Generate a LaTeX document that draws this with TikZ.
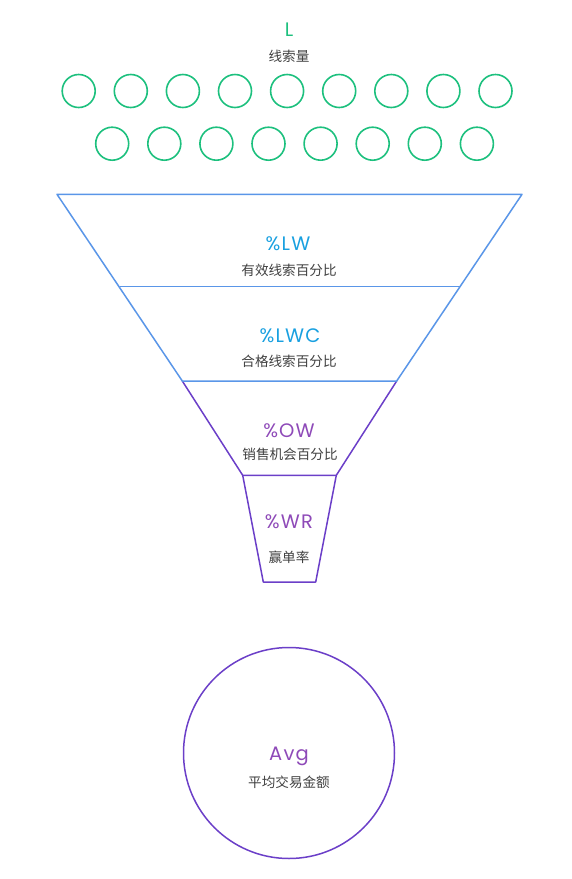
\documentclass[tikz,border=0pt]{standalone}
\usepackage{fontspec}
\setmainfont{Poppins}[LetterSpace=6]
\newfontfamily\cjk{Noto Sans CJK SC}
\definecolor{cgreen}{HTML}{1DC07E}
\definecolor{cblue}{HTML}{5A96E8}
\definecolor{cbluetxt}{HTML}{19A0E0}
\definecolor{cpurple}{HTML}{6B3FC8}
\definecolor{cpurpletxt}{HTML}{8E4AB8}
\definecolor{cgray}{HTML}{404040}
\tikzset{
  dot/.style={circle, draw=cgreen, line width=1.6pt, minimum size=33pt, inner sep=0pt},
  bigtxt/.style={font=\fontsize{19.5}{23}\selectfont, inner sep=0pt},
  subtxt/.style={font=\cjk\fontsize{13.6}{16}\selectfont, text=cgray, inner sep=0pt},
  blueline/.style={draw=cblue, line width=1.5pt, line join=round},
  purpleline/.style={draw=cpurple, line width=1.5pt, line join=round},
}
\begin{document}
\begin{tikzpicture}[x=1pt, y=-1pt]
\useasboundingbox (0,0) rectangle (571,879);
% top label
\node[bigtxt, text=cgreen] (L) at (289,30) {L};
\node[subtxt] (Lsub) at (289,56) {线索量};
% circles
\foreach \i in {0,...,8} {
  \node[dot] (a\i) at ({78.7+52.1*\i},91) {};
}
\foreach \i in {0,...,7} {
  \node[dot] (b\i) at ({112.2+52.1*\i},143.7) {};
}
% funnel coordinates
\coordinate (t1) at (57,194.3);
\coordinate (t2) at (522,194.3);
\coordinate (m1) at (119.5,286.7);
\coordinate (m2) at (459.5,286.7);
\coordinate (n1) at (182.3,381);
\coordinate (n2) at (396.7,381);
\coordinate (o1) at (242.7,475.3);
\coordinate (o2) at (336.3,475.3);
\coordinate (p1) at (263.3,582);
\coordinate (p2) at (315.7,582);
% purple part
\draw[purpleline] (n1) -- (o1) -- (o2) -- (n2);
\draw[purpleline] (o1) -- (p1) -- (p2) -- (o2);
% blue part
\draw[blueline] (n1) -- (t1) -- (t2) -- (n2) -- cycle;
\draw[blueline] (m1) -- (m2);
% texts
\node[bigtxt, text=cbluetxt] (LW) at (288,244) {\%LW};
\node[subtxt] (LWs) at (289,270) {有效线索百分比};
\node[bigtxt, text=cbluetxt] (LWC) at (290,336) {\%LWC};
\node[subtxt] (LWCs) at (289,361) {合格线索百分比};
\node[bigtxt, text=cpurpletxt] (OW) at (289,431) {\%OW};
\node[subtxt] (OWs) at (290,454) {销售机会百分比};
\node[bigtxt, text=cpurpletxt] (WR) at (289,522) {\%WR};
\node[subtxt] (WRs) at (289,557) {赢单率};
% big circle
\node[circle, draw=cpurple, line width=1.5pt, minimum size=211pt, inner sep=0pt] (big) at (289,753) {};
\node[bigtxt, text=cpurpletxt] (Avg) at (289,756) {Avg};
\node[subtxt] (Avgs) at (289,782) {平均交易金额};
\end{tikzpicture}
\end{document}
